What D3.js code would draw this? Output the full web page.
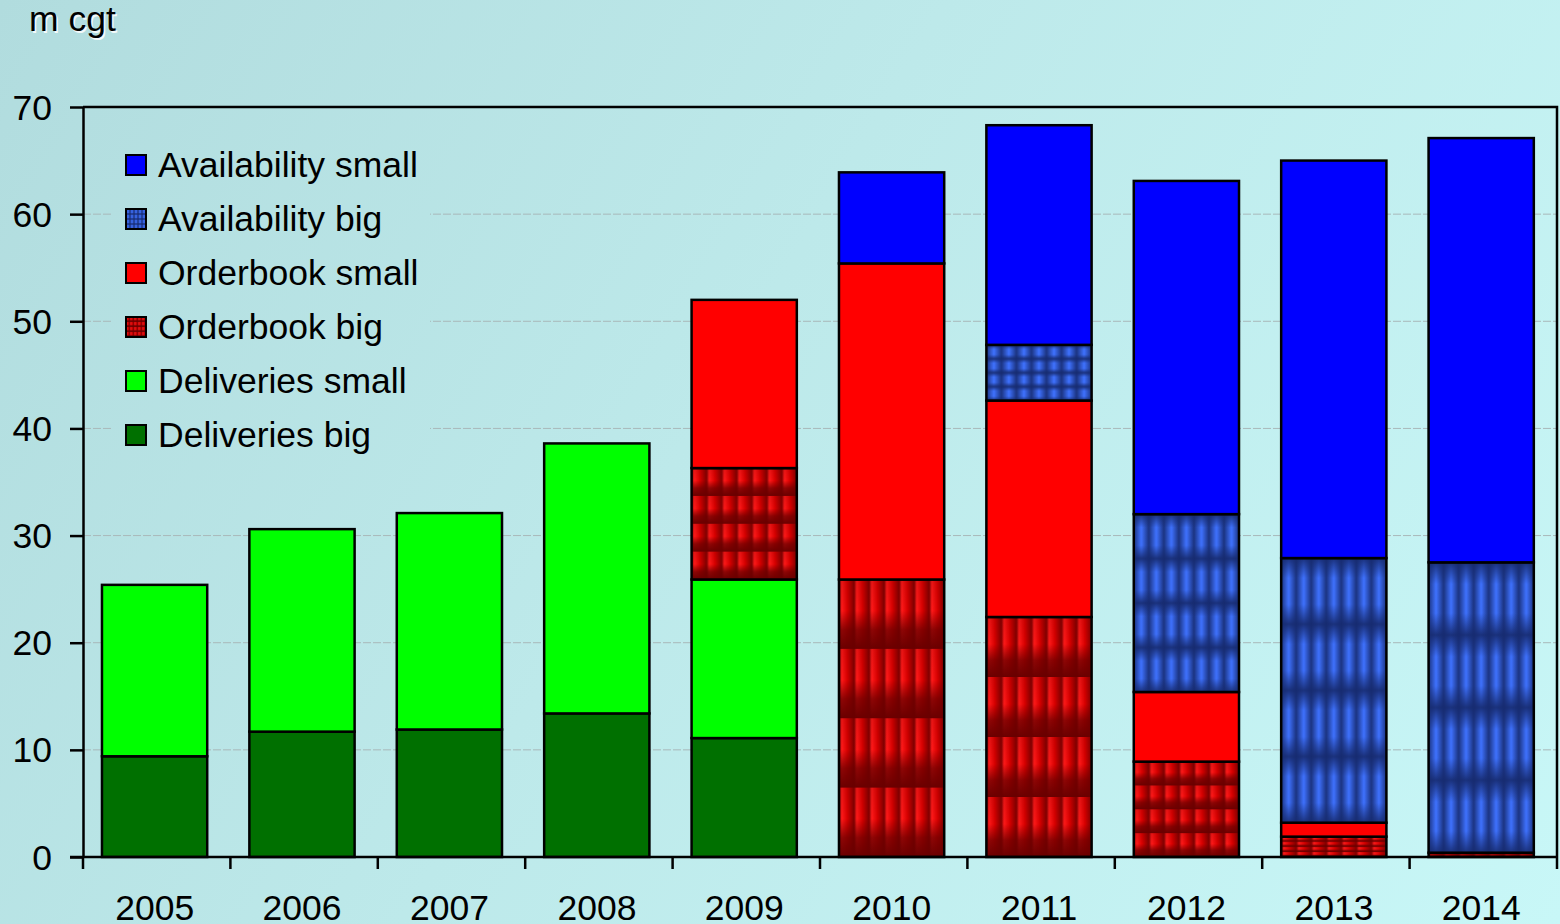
<!DOCTYPE html>
<html>
<head>
<meta charset="utf-8">
<script src="https://cdn.jsdelivr.net/npm/d3@7/dist/d3.min.js"></script>
<style>
  html, body { margin: 0; padding: 0; background: #bfeaea; }
  svg { display: block; }
  text { font-family: "Liberation Sans", Arial, sans-serif; fill: #000; }
</style>
</head>
<body>
<script>
// Shipbuilding capacity by year, million compensated gross tonnes
const years = ["2005", "2006", "2007", "2008", "2009", "2010", "2011", "2012", "2013", "2014"];
const deliveriesBig    = [9.4, 11.7, 11.9, 13.4, 11.1, 0, 0, 0, 0, 0];
const deliveriesSmall  = [16.0, 18.9, 20.2, 25.2, 14.8, 0, 0, 0, 0, 0];
const orderbookBig     = [0, 0, 0, 0, 10.4, 25.9, 22.4, 8.9, 1.9, 0.4];
const orderbookSmall   = [0, 0, 0, 0, 15.7, 29.5, 20.2, 6.5, 1.3, 0];
const availabilityBig  = [0, 0, 0, 0, 0, 0, 5.2, 16.6, 24.7, 27.1];
const availabilitySmall= [0, 0, 0, 0, 0, 8.5, 20.5, 31.1, 37.1, 39.6];
const yTicks = [0, 10, 20, 30, 40, 50, 60, 70];
const unitLabel = "m cgt";

// stacking order, bottom to top
const seriesNames = ["Deliveries big", "Deliveries small", "Orderbook big", "Orderbook small", "Availability big", "Availability small"];
const seriesValues = [deliveriesBig, deliveriesSmall, orderbookBig, orderbookSmall, availabilityBig, availabilitySmall];
const legendOrder = ["Availability small", "Availability big", "Orderbook small", "Orderbook big", "Deliveries small", "Deliveries big"];

const W = 1560, H = 924;
const margin = { left: 83, right: 3, top: 107, bottom: 67 };
const FS = "35.5px";

const svg = d3.select("body").append("svg").attr("width", W).attr("height", H);
const defs = svg.append("defs");

// page background gradient (absolute coordinates so the legend box can reuse it)
const bg = defs.append("linearGradient").attr("id", "bgGrad")
  .attr("gradientUnits", "userSpaceOnUse")
  .attr("x1", 0).attr("y1", 0).attr("x2", W).attr("y2", H);
bg.append("stop").attr("offset", 0).attr("stop-color", "#b1dcde");
bg.append("stop").attr("offset", 0.45).attr("stop-color", "#bde9ea");
bg.append("stop").attr("offset", 1).attr("stop-color", "#c8f7f7");
svg.append("rect").attr("width", W).attr("height", H).attr("fill", "url(#bgGrad)");

// tile shading gradients for the textured "big" segments
function lin(id, horizontal, stops) {
  const g = defs.append("linearGradient").attr("id", id)
    .attr("x1", 0).attr("y1", 0)
    .attr("x2", horizontal ? 1 : 0).attr("y2", horizontal ? 0 : 1);
  stops.forEach(s => g.append("stop").attr("offset", s[0]).attr("stop-color", s[1]).attr("stop-opacity", s[2] == null ? 1 : s[2]));
}
lin("redH", true, [[0, "#7a0000"], [0.18, "#ff1a1a"], [0.55, "#d80000"], [1, "#7e0000"]]);
lin("redV", false, [[0, "#6a0000", 0.15], [0.45, "#6a0000", 0], [0.72, "#6a0000", 0.75], [1, "#6a0000", 1]]);
lin("blueH", true, [[0, "#1b3380"], [0.5, "#3f72ff"], [1, "#1b3380"]]);
lin("blueV", false, [[0, "#162a6e", 0.9], [0.3, "#162a6e", 0], [0.7, "#162a6e", 0], [1, "#162a6e", 0.9]]);

let patCount = 0;
function texturePattern(kind, x, y, w, h, cols, rows) {
  const id = "pat" + (patCount++);
  const tw = w / cols, th = Math.max(h / rows, 1);
  const p = defs.append("pattern").attr("id", id)
    .attr("patternUnits", "userSpaceOnUse")
    .attr("x", x).attr("y", y).attr("width", tw).attr("height", th);
  const g = kind === "red" ? ["redH", "redV"] : ["blueH", "blueV"];
  p.append("rect").attr("width", tw).attr("height", th).attr("fill", `url(#${g[0]})`);
  p.append("rect").attr("width", tw).attr("height", th).attr("fill", `url(#${g[1]})`);
  return "url(#" + id + ")";
}

const solid = {
  "Deliveries big": "#007000",
  "Deliveries small": "#00ff00",
  "Orderbook small": "#ff0000",
  "Availability small": "#0000ff"
};
const textured = { "Orderbook big": "red", "Availability big": "blue" };

const x = d3.scaleBand().domain(years)
  .range([margin.left, W - margin.right]).paddingInner(0.286).paddingOuter(0.143).align(0.45);
const y = d3.scaleLinear().domain([0, 70]).range([H - margin.bottom, margin.top]);

// horizontal gridlines
svg.append("g").selectAll("line").data(yTicks.filter(t => t > 0 && t < 70)).join("line")
  .attr("x1", margin.left).attr("x2", W - margin.right)
  .attr("y1", d => y(d)).attr("y2", d => y(d))
  .attr("stroke", "#a9b8b9").attr("stroke-width", 1).attr("stroke-dasharray", "8,2");

// plot frame (top and right edges)
svg.append("path")
  .attr("d", `M${margin.left},${y(70)}H${W - margin.right}V${y(0)}`)
  .attr("fill", "none").attr("stroke", "#000").attr("stroke-width", 2.5);

// stacked bars
const stack = d3.stack().keys(seriesNames.map((_, i) => i)).value((d, k) => seriesValues[k][d]);
const stacked = stack(d3.range(years.length));
const barsG = svg.append("g");
stacked.forEach((layer, k) => {
  const name = seriesNames[k];
  layer.forEach((seg, i) => {
    if (seg[1] - seg[0] <= 0) return;
    const bx = x(years[i]), bw = x.bandwidth();
    const y0 = y(seg[1]), h = y(seg[0]) - y(seg[1]);
    let fill = solid[name];
    if (textured[name]) fill = texturePattern(textured[name], bx, y0, bw, h, 7, 4);
    barsG.append("rect")
      .attr("x", bx).attr("y", y0).attr("width", bw).attr("height", h)
      .attr("fill", fill).attr("stroke", "#000").attr("stroke-width", 2.5);
  });
});

// y axis
const yAxis = svg.append("g").attr("transform", `translate(${margin.left},0)`)
  .call(d3.axisLeft(y).tickValues(yTicks).tickSize(13).tickSizeOuter(0).tickPadding(18));
yAxis.select(".domain").attr("stroke", "#000").attr("stroke-width", 2.5);
yAxis.selectAll(".tick line").attr("stroke", "#000").attr("stroke-width", 2.5);
yAxis.selectAll(".tick text").style("font-size", FS).style("font-family", "'Liberation Sans', Arial, sans-serif").attr("fill", "#000").attr("dy", "0.34em");

// x axis with ticks between categories
const xAxis = svg.append("g").attr("transform", `translate(0,${y(0)})`);
xAxis.append("line").attr("x1", margin.left - 13).attr("x2", W - margin.right)
  .attr("stroke", "#000").attr("stroke-width", 2.5);
const boundaries = d3.range(years.length + 1).map(i => margin.left + i * (W - margin.right - margin.left) / years.length);
xAxis.selectAll(".btick").data(boundaries).join("line")
  .attr("x1", d => d).attr("x2", d => d).attr("y1", 0).attr("y2", 12)
  .attr("stroke", "#000").attr("stroke-width", 2.5);
xAxis.selectAll(".ylab").data(years).join("text")
  .attr("x", (d, i) => (boundaries[i] + boundaries[i + 1]) / 2 - 2)
  .attr("y", 63).attr("text-anchor", "middle")
  .style("font-size", FS).text(d => d);

// unit label with a soft white glow
svg.append("text").attr("x", 30.5).attr("y", 32.5).style("font-size", FS)
  .style("fill", "#ffffff").attr("opacity", 0.85).text(unitLabel);
svg.append("text").attr("x", 29).attr("y", 31).style("font-size", FS).text(unitLabel);

// legend
const lg = svg.append("g");
lg.append("rect").attr("x", 112).attr("y", 140).attr("width", 318).attr("height", 318)
  .attr("fill", "url(#bgGrad)");
legendOrder.forEach((name, i) => {
  const cy = 165 + i * 54;
  let fill = solid[name];
  if (textured[name]) fill = texturePattern(textured[name], 126, cy - 10, 20, 20, 5, 4);
  lg.append("rect").attr("x", 126).attr("y", cy - 10).attr("width", 20).attr("height", 20)
    .attr("fill", fill).attr("stroke", "#000").attr("stroke-width", 2);
  lg.append("text").attr("x", 158).attr("y", cy + 12).style("font-size", FS).text(name);
});
</script>
</body>
</html>
